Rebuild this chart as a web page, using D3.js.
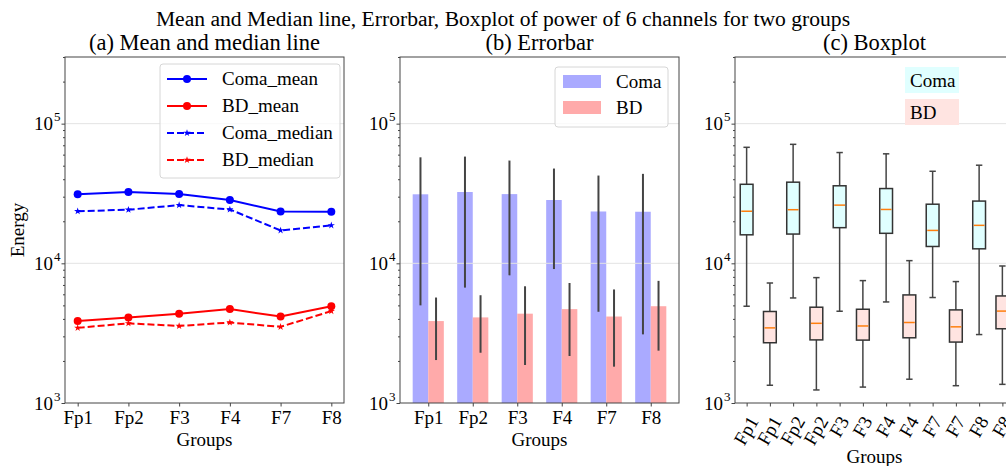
<!DOCTYPE html>
<html>
<head>
<meta charset="utf-8">
<script src="https://cdn.jsdelivr.net/npm/d3@7/dist/d3.min.js"></script>
<style>
  body { margin: 0; background: #fff; }
  svg { font-family: "Liberation Serif", "Times New Roman", serif; }
</style>
</head>
<body>
<svg id="chart" width="1006" height="466"></svg>
<script>
// channels and groups
const channels = ["Fp1", "Fp2", "F3", "F4", "F7", "F8"];
const groups = ["Coma", "BD"];

// mean / std (panel a + b)
const comaMean = [31200, 32400, 31300, 28400, 23500, 23400];
const bdMean = [3860, 4100, 4360, 4700, 4160, 4930];
const comaStd = [26200, 25700, 23100, 19300, 19000, 20300];
const bdStd = [1830, 1810, 2490, 2530, 2340, 2560];

// medians (panel a + c)
const comaMedian = [23600, 24200, 26100, 24300, 17200, 18700];
const bdMedian = [3450, 3720, 3560, 3770, 3510, 4550];

// box stats (panel c)
const comaQ1 = [16000, 16200, 18000, 16400, 13200, 12700];
const comaQ3 = [36800, 38100, 35900, 34300, 26500, 27900];
const comaLow = [4930, 5650, 4540, 5290, 5690, 3090];
const comaHigh = [67700, 71100, 62100, 60800, 45600, 50400];
const bdQ1 = [2700, 2830, 2820, 2930, 2730, 3400];
const bdQ3 = [4520, 4850, 4690, 5940, 4640, 5840];
const bdLow = [1340, 1240, 1300, 1480, 1330, 1360];
const bdHigh = [7230, 7900, 7520, 10450, 7400, 9570];

const yTicks = [1e3, 1e4, 1e5];

const svg = d3.select("#chart");
const plotTop = 57, plotBottom = 403;
const panels = [[65, 344], [400, 679], [735, 1014]];
const fs = 19;
const spine = "#444";

const y = d3.scaleLog().domain([1e3, 3e5]).range([plotBottom, plotTop]);

const minorTicks = [];
[1e3, 1e4, 1e5].forEach(d => { for (let k = 2; k <= 9; k++) if (d * k <= 3e5) minorTicks.push(d * k); });

function grid(g, x0, x1) {
	g.append("g").selectAll("line").data(yTicks.slice(1)).join("line")
		.attr("x1", x0).attr("x2", x1)
		.attr("y1", d => y(d)).attr("y2", d => y(d))
		.attr("stroke", "#e3e3e3").attr("stroke-width", 1);
}

function frame(g, x0, x1, xAxis, rotate) {
	const yMajor = d3.axisLeft(y).tickValues(yTicks).tickSize(3.5).tickFormat("");
	const yMinor = d3.axisLeft(y).tickValues(minorTicks).tickSize(2).tickFormat("");
	g.append("g").attr("transform", `translate(${x0},0)`).call(yMinor)
		.call(a => a.select(".domain").remove())
		.selectAll("line").attr("stroke", spine);
	const ya = g.append("g").attr("transform", `translate(${x0},0)`).call(yMajor);
	ya.select(".domain").remove();
	ya.selectAll("line").attr("stroke", spine);
	ya.selectAll(".tick").append("text")
		.attr("x", -12).attr("y", 6)
		.attr("text-anchor", "end").attr("fill", "#000")
		.attr("font-size", fs).attr("font-family", "Liberation Serif")
		.text("10");
	ya.selectAll(".tick").append("text")
		.attr("x", -11).attr("y", -3)
		.attr("text-anchor", "start").attr("fill", "#000")
		.attr("font-size", 13).attr("font-family", "Liberation Serif")
		.text(d => Math.round(Math.log10(d)));

	const xa = g.append("g").attr("transform", `translate(0,${plotBottom})`).call(xAxis);
	xa.select(".domain").remove();
	xa.selectAll("line").attr("stroke", spine);
	xa.selectAll("text").attr("font-size", fs).attr("font-family", "Liberation Serif").attr("fill", "#000");
	if (rotate) {
		xa.selectAll("text").each(function () {
			const t = d3.select(this);
			const L = this.getComputedTextLength();
			const hgt = L * Math.sin(Math.PI / 3) + 15 * 0.5;
			t.attr("y", null).attr("dy", null)
				.attr("text-anchor", "middle")
				.attr("dominant-baseline", "central")
				.attr("transform", `translate(-1,${11 + hgt / 2}) rotate(-60)`);
		});
	}

	g.append("rect").attr("x", x0).attr("y", plotTop)
		.attr("width", x1 - x0).attr("height", plotBottom - plotTop)
		.attr("fill", "none").attr("stroke", spine).attr("stroke-width", 1);

	g.append("text").attr("x", (x0 + x1) / 2).attr("y", rotate ? 463 : 446)
		.attr("text-anchor", "middle").attr("font-size", fs).text("Groups");
}

function title(x0, x1, txt) {
	svg.append("text").attr("x", (x0 + x1) / 2).attr("y", 50)
		.attr("text-anchor", "middle").attr("font-size", 22.5).text(txt);
}

svg.append("text").attr("x", 503).attr("y", 26)
	.attr("text-anchor", "middle").attr("font-size", 21.6)
	.text("Mean and Median line, Errorbar, Boxplot of power of 6 channels for two groups");

// ---------- (a) mean and median lines
{
	const [x0, x1] = panels[0];
	const g = svg.append("g");
	const x = d3.scalePoint().domain(channels).range([x0, x1]).padding(0.25);
	grid(g, x0, x1);
	const series = [
		{ name: "Coma_mean", vals: comaMean, color: "#0000ff", dash: null, mark: "circle" },
		{ name: "BD_mean", vals: bdMean, color: "#ff0000", dash: null, mark: "circle" },
		{ name: "Coma_median", vals: comaMedian, color: "#0000ff", dash: "7,3", mark: "star" },
		{ name: "BD_median", vals: bdMedian, color: "#ff0000", dash: "7,3", mark: "star" },
	];
	const line = d3.line().x((d, i) => x(channels[i])).y(d => y(d));
	const star = d3.symbol(d3.symbolStar, 16);
	const drawMark = (sel, s, cx, cy) => {
		if (s.mark === "circle") sel.append("circle").attr("cx", cx).attr("cy", cy).attr("r", 4).attr("fill", s.color);
		else sel.append("path").attr("d", star()).attr("transform", `translate(${cx},${cy})`).attr("fill", s.color);
	};
	series.forEach(s => {
		g.append("path").attr("d", line(s.vals)).attr("fill", "none")
			.attr("stroke", s.color).attr("stroke-width", 2).attr("stroke-dasharray", s.dash);
		s.vals.forEach((v, i) => drawMark(g, s, x(channels[i]), y(v)));
	});
	frame(g, x0, x1, d3.axisBottom(x).tickSize(3.5).tickPadding(4), false);

	const lg = g.append("g");
	lg.append("rect").attr("x", 160).attr("y", 64).attr("width", 180).attr("height", 114)
		.attr("rx", 3).attr("fill", "#fff").attr("fill-opacity", 0.8).attr("stroke", "#d6d6d6");
	series.forEach((s, i) => {
		const cy = 79 + i * 27;
		lg.append("line").attr("x1", 167).attr("x2", 207).attr("y1", cy).attr("y2", cy)
			.attr("stroke", s.color).attr("stroke-width", 2).attr("stroke-dasharray", s.dash);
		drawMark(lg, s, 187, cy);
		lg.append("text").attr("x", 222).attr("y", cy + 6).attr("font-size", fs).text(s.name);
	});

	svg.append("text").attr("transform", `translate(24,230) rotate(-90)`)
		.attr("text-anchor", "middle").attr("font-size", fs).text("Energy");
	title(x0, x1, "(a) Mean and median line");
}

// ---------- (b) errorbar
{
	const [x0, x1] = panels[1];
	const g = svg.append("g");
	const x = d3.scalePoint().domain(channels).range([x0, x1]).padding(0.635);
	const bw = 0.35 * x.step();
	const bars = [
		{ name: groups[0], mean: comaMean, std: comaStd, color: "#aaaaff", off: -bw },
		{ name: groups[1], mean: bdMean, std: bdStd, color: "#ffaaaa", off: 0 },
	];
	bars.forEach(b => {
		g.append("g").selectAll("rect").data(b.mean).join("rect")
			.attr("x", (d, i) => x(channels[i]) + b.off).attr("width", bw)
			.attr("y", d => y(d)).attr("height", d => plotBottom - y(d))
			.attr("fill", b.color);
	});
	grid(g, x0, x1);
	bars.forEach(b => {
		g.append("g").selectAll("line").data(b.mean).join("line")
			.attr("x1", (d, i) => x(channels[i]) + b.off + bw / 2)
			.attr("x2", (d, i) => x(channels[i]) + b.off + bw / 2)
			.attr("y1", (d, i) => y(Math.max(d - b.std[i], 1)))
			.attr("y2", (d, i) => y(d + b.std[i]))
			.attr("stroke", "#444").attr("stroke-width", 2);
	});
	frame(g, x0, x1, d3.axisBottom(x).tickSize(3.5).tickPadding(4), false);

	const lg = g.append("g");
	lg.append("rect").attr("x", 555).attr("y", 67).attr("width", 113).attr("height", 60)
		.attr("rx", 3).attr("fill", "#fff").attr("fill-opacity", 0.8).attr("stroke", "#d6d6d6");
	bars.forEach((b, i) => {
		lg.append("rect").attr("x", 563).attr("y", 75 + i * 26).attr("width", 38).attr("height", 13).attr("fill", b.color);
		lg.append("text").attr("x", 616).attr("y", 88 + i * 26).attr("font-size", fs).text(b.name);
	});
	title(x0, x1, "(b) Errorbar");
}

// ---------- (c) boxplot
{
	const [x0, x1] = panels[2];
	const g = svg.append("g");
	const keys = channels.flatMap(c => groups.map(gr => c + "|" + gr));
	const x = d3.scalePoint().domain(keys).range([x0, x1]).padding(0.5);
	grid(g, x0, x1);
	const boxes = [];
	channels.forEach((c, i) => {
		boxes.push({ key: c + "|Coma", lo: comaLow[i], q1: comaQ1[i], med: comaMedian[i], q3: comaQ3[i], hi: comaHigh[i], fill: "#e0ffff" });
		boxes.push({ key: c + "|BD", lo: bdLow[i], q1: bdQ1[i], med: bdMedian[i], q3: bdQ3[i], hi: bdHigh[i], fill: "#ffe4e1" });
	});
	const bw = 0.55 * x.step();
	const bg = g.append("g").selectAll("g").data(boxes).join("g")
		.attr("transform", d => `translate(${x(d.key)},0)`);
	bg.append("line").attr("y1", d => y(d.lo)).attr("y2", d => y(d.q1)).attr("stroke", "#444").attr("stroke-width", 1.5);
	bg.append("line").attr("y1", d => y(d.q3)).attr("y2", d => y(d.hi)).attr("stroke", "#444").attr("stroke-width", 1.5);
	bg.append("line").attr("x1", -bw / 4).attr("x2", bw / 4).attr("y1", d => y(d.lo)).attr("y2", d => y(d.lo)).attr("stroke", "#444").attr("stroke-width", 1.5);
	bg.append("line").attr("x1", -bw / 4).attr("x2", bw / 4).attr("y1", d => y(d.hi)).attr("y2", d => y(d.hi)).attr("stroke", "#444").attr("stroke-width", 1.5);
	bg.append("rect").attr("x", -bw / 2).attr("width", bw)
		.attr("y", d => y(d.q3)).attr("height", d => y(d.q1) - y(d.q3))
		.attr("fill", d => d.fill).attr("stroke", "#333").attr("stroke-width", 1.5);
	bg.append("line").attr("x1", -bw / 2 + 1).attr("x2", bw / 2 - 1).attr("y1", d => y(d.med)).attr("y2", d => y(d.med))
		.attr("stroke", "#ff7f0e").attr("stroke-width", 1.5);
	frame(g, x0, x1, d3.axisBottom(x).tickSize(3.5).tickFormat(d => d.split("|")[0]), true);

	const lg = g.append("g");
	[["Coma", "#e0ffff", 67], ["BD", "#ffe4e1", 99]].forEach(([t, c, yy]) => {
		lg.append("rect").attr("x", 905).attr("y", yy).attr("width", 54).attr("height", 26).attr("fill", c);
		lg.append("text").attr("x", 910).attr("y", yy + 19.5).attr("font-size", fs).text(t);
	});
	title(x0, x1, "(c) Boxplot");
}
</script>
</body>
</html>
